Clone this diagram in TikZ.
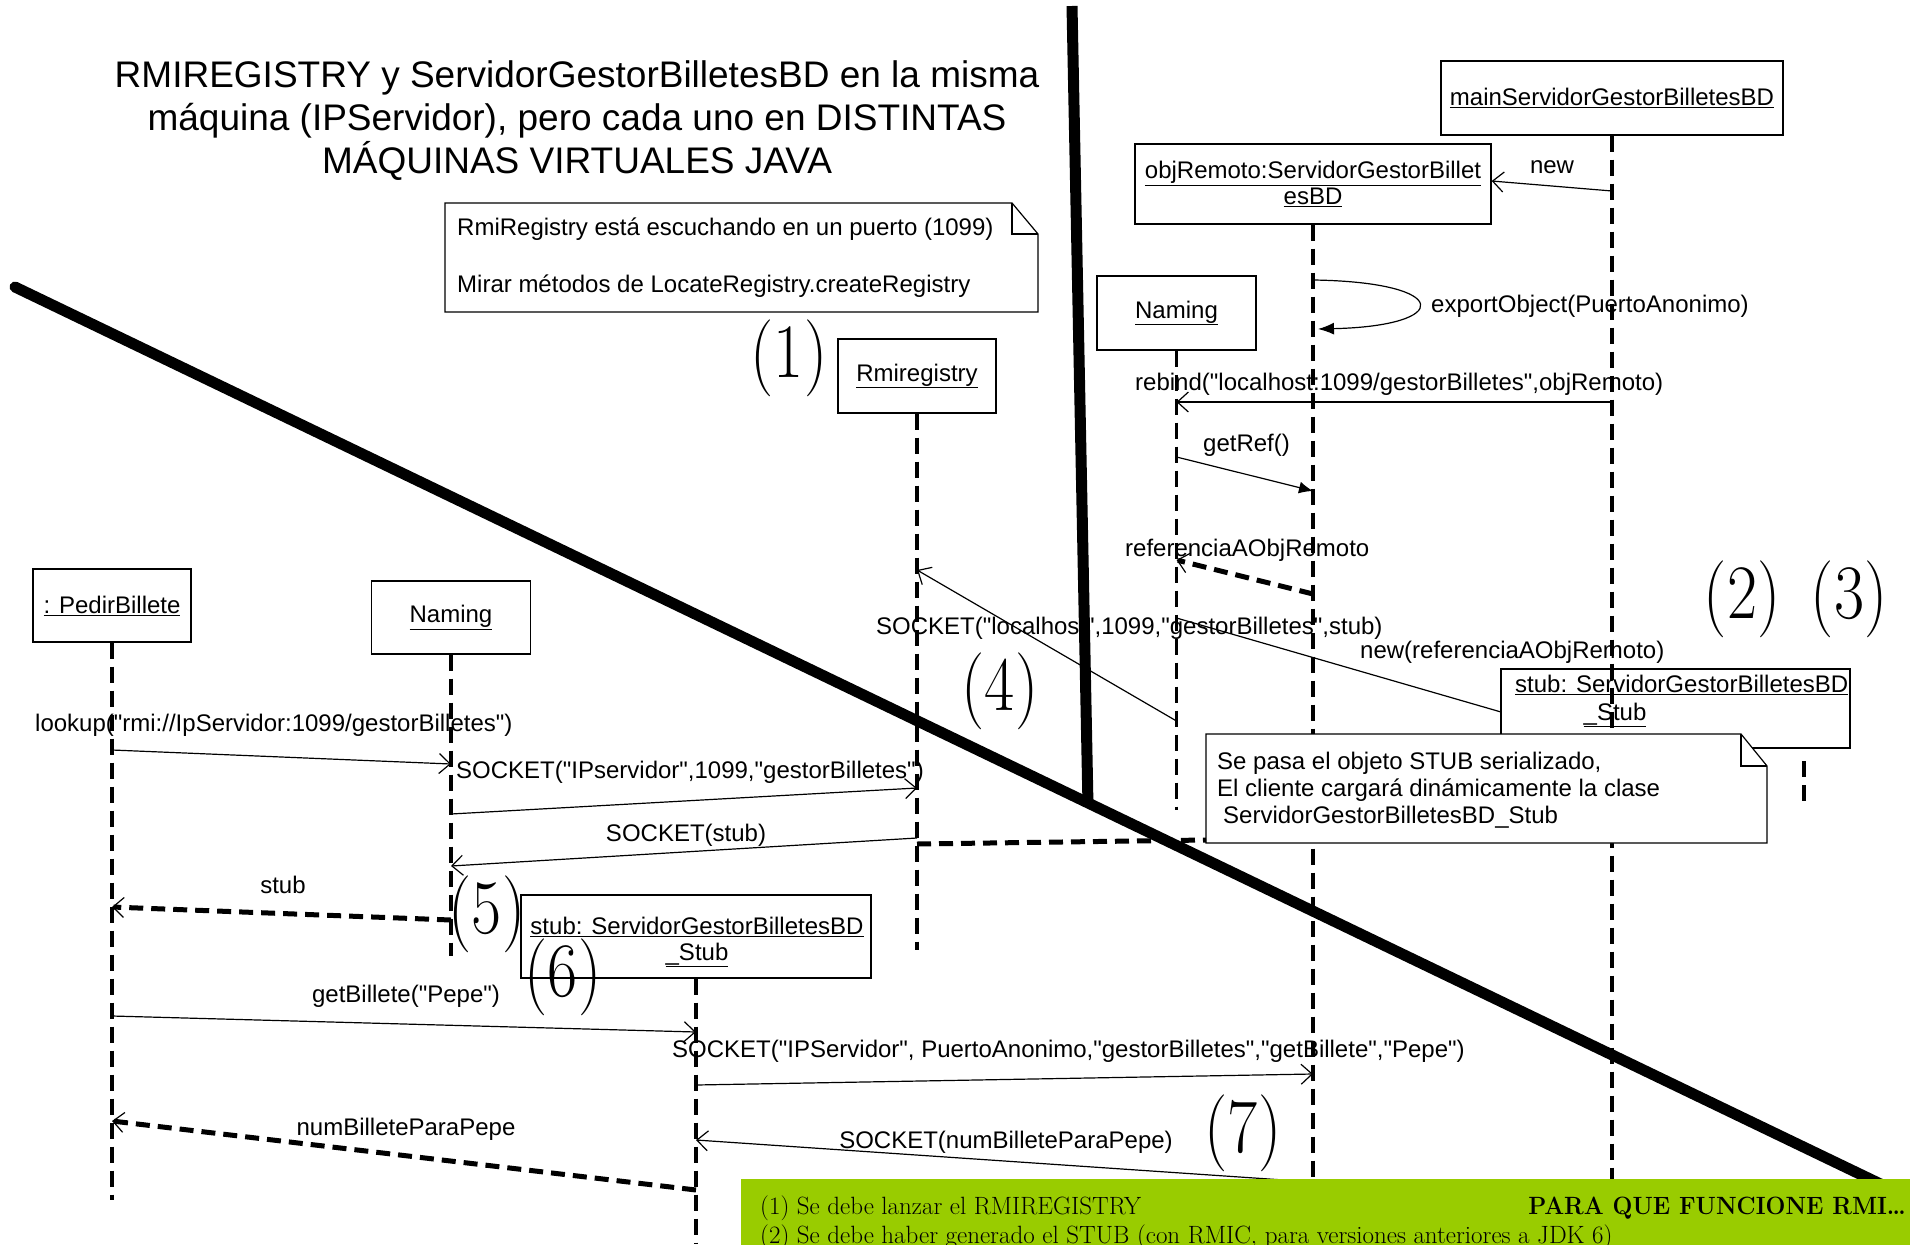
\documentclass[tikz,border=0pt]{standalone}
\usepackage{fontspec}
\usepackage{graphicx}
\newfontfamily\lsans{Liberation Sans}
\usetikzlibrary{arrows.meta}
\definecolor{limeg}{RGB}{153,204,0}
\begin{document}
\begin{tikzpicture}[x=1pt,y=-1pt,font=\lsans\fontsize{24}{28}\selectfont,
  obj/.style={draw,line width=1.3pt,fill=white,inner sep=0pt},
  lbl/.style={inner sep=0pt},
  life/.style={line width=3.5pt,dash pattern=on 16pt off 8pt},
  heavy/.style={line width=11pt},
  msg/.style={line width=1.2pt,-{Straight Barb[length=11pt,width=20pt,line width=1.2pt]}},
  fmsg/.style={line width=1.2pt,-{Latex[length=14pt,width=12pt]}},
  ret/.style={line width=5pt,dash pattern=on 14pt off 8pt,-{Straight Barb[length=11pt,width=20pt,line width=1.2pt]}},
  anch/.style={line width=5pt,dash pattern=on 14pt off 8pt},
  notebox/.style={draw,line width=1.2pt,fill=white},
  bignum/.style={font=\rmfamily\fontsize{77}{84}\selectfont,inner sep=0pt},
  greentxt/.style={font=\rmfamily\fontsize{25}{30}\selectfont,inner sep=0pt}
]
\clip (0,0) rectangle (1910,1244);
\fill[white] (0,0) rectangle (1910,1244);

% title
\node[lbl,align=center,font=\lsans\fontsize{37}{43}\selectfont] (title) at (577,121)
  {RMIREGISTRY y ServidorGestorBilletesBD en la misma\\ máquina (IPServidor), pero cada uno en DISTINTAS\\ MÁQUINAS VIRTUALES JAVA};

% note 1
\draw[notebox] (445,203) -- (1012,203) -- (1038,234) -- (1038,312) -- (445,312) -- cycle;
\draw[line width=1.2pt] (1012,203) -- (1012,234) -- (1038,234);
\node[lbl,anchor=west] (n1a) at (457,229) {RmiRegistry está escuchando en un puerto (1099)};
\node[lbl,anchor=west] (n1b) at (457,286) {Mirar métodos de LocateRegistry.createRegistry};

% message labels
\node[lbl] (lnew) at (1552,167) {new};
\node[lbl,anchor=west] (lexp) at (1431,306) {exportObject(PuertoAnonimo)};
\node[lbl,anchor=west] (lreb) at (1135,384) {rebind("localhost:1099/gestorBilletes",objRemoto)};
\node[lbl,anchor=west] (lget) at (1203,445) {getRef()};
\node[lbl,anchor=west] (lref) at (1125,550) {referenciaAObjRemoto};
\node[lbl,anchor=west] (lsl) at (876,628) {SOCKET("localhost",1099,"gestorBilletes",stub)};
\node[lbl,anchor=west] (lnr) at (1360,652) {new(referenciaAObjRemoto)};
\node[lbl,anchor=west] (llk) at (35,725) {lookup("rmi://IpServidor:1099/gestorBilletes")};
\node[lbl,anchor=west] (lsi) at (456,772) {SOCKET("IPservidor",1099,"gestorBilletes")};
\node[lbl] (lss) at (686,835) {SOCKET(stub)};
\node[lbl] (lst) at (283,885) {stub};
\node[lbl] (lgb) at (406,996) {getBillete("Pepe")};
\node[lbl,anchor=west] (lsp) at (672,1051) {SOCKET("IPServidor", PuertoAnonimo,"gestorBilletes","getBillete","Pepe")};
\node[lbl] (lsn) at (1006,1142) {SOCKET(numBilleteParaPepe)};
\node[lbl] (lnb) at (406,1129) {numBilleteParaPepe};

% objects
\node[obj,minimum width=342pt,minimum height=74pt] (mainS) at (1612,98) {\underline{mainServidorGestorBilletesBD}};
\node[obj,minimum width=356pt,minimum height=80pt,align=center] (objR) at (1313,184) {\underline{objRemoto:ServidorGestorBillet}\\[-2pt]\underline{esBD}};
\node[obj,minimum width=159pt,minimum height=74pt] (namR) at (1176.5,313) {\underline{Naming}};
\node[obj,minimum width=158pt,minimum height=74pt] (rmi) at (917,376) {\underline{Rmiregistry}};
\node[obj,minimum width=158pt,minimum height=73pt] (ped) at (112,605.5) {\underline{: PedirBillete}};
\node[obj,minimum width=159pt,minimum height=73pt] (namL) at (451,617.5) {\underline{Naming}};
\node[obj,minimum width=349pt,minimum height=79pt] (stubR) at (1675.5,708.5) {};
\node[lbl,anchor=west] (stubRa) at (1515,685) {\underline{stub: ServidorGestorBilletesBD}};
\node[lbl] (stubRb) at (1615,715) {\underline{\_Stub}};
\node[obj,minimum width=350pt,minimum height=83pt] (stubL) at (696,936.5) {};
\node[lbl] (stubLa) at (697,927) {\underline{stub: ServidorGestorBilletesBD}};
\node[lbl] (stubLb) at (697,955) {\underline{\_Stub}};

% lifelines
\coordinate (mainSe) at (1612,1244);
\coordinate (objRe) at (1313,1244);
\coordinate (namRe) at (1176.5,810);
\coordinate (rmie) at (917,950);
\coordinate (pede) at (112,1200);
\coordinate (namLe) at (451,956);
\coordinate (stubLe) at (696,1244);
\coordinate (stubRs) at (1804,761);
\coordinate (stubRe) at (1804,804);
\draw[life] (mainS.south) -- (mainSe);
\draw[life] (objR.south) -- (objRe);
\draw[life] (namR.south) -- (namRe);
\draw[life] (rmi.south) -- (rmie);
\draw[life] (ped.south) -- (pede);
\draw[life] (namL.south) -- (namLe);
\draw[life] (stubL.south) -- (stubLe);
\draw[life] (stubRs) -- (stubRe);

% heavy separators
\coordinate (d1) at (15,287);
\coordinate (d2) at (1920,1203);
\coordinate (v1) at (1072,6);
\coordinate (v2) at (1088,806);
\draw[heavy,line cap=round] (d1) -- (d2);
\draw[heavy] (v1) -- (v2);

% messages
\coordinate (a1) at (1612,191);
\draw[msg] (a1) -- (objR.east |- 0,181);
\coordinate (e1) at (1313,280); \coordinate (e2) at (1318,329);
\draw[line width=1.2pt,-{Latex[length=16pt,width=12pt]}] (e1) .. controls (1453,282) and (1453,326) .. (e2);
\coordinate (r1) at (1612,402); \coordinate (r2) at (1176.5,402);
\draw[msg] (r1) -- (r2);
\coordinate (g1) at (1176.5,457); \coordinate (g2) at (1313,491);
\draw[fmsg] (g1) -- (g2);
\coordinate (f1) at (1313,594); \coordinate (f2) at (1176.5,560);
\draw[ret] (f1) -- (f2);
\coordinate (s1) at (1176.5,721); \coordinate (s2) at (917,570);
\draw[msg] (s1) -- (s2);
\coordinate (c1) at (1176.5,618); \coordinate (c2) at (1501,712);
\draw[line width=1.2pt] (c1) -- (c2);
\coordinate (k1) at (112,750); \coordinate (k2) at (451,764);
\draw[msg] (k1) -- (k2);
\coordinate (i1) at (451,814); \coordinate (i2) at (917,788);
\draw[msg] (i1) -- (i2);
\coordinate (t1) at (917,838); \coordinate (t2) at (451,866);
\draw[msg] (t1) -- (t2);
\coordinate (u1) at (451,920); \coordinate (u2) at (112,907);
\draw[ret] (u1) -- (u2);
\coordinate (b1) at (112,1016); \coordinate (b2) at (696,1032);
\draw[msg] (b1) -- (b2);
\coordinate (p1) at (696,1085); \coordinate (p2) at (1313,1074);
\draw[msg] (p1) -- (p2);
\coordinate (q1) at (1313,1182); \coordinate (q2) at (696,1140);
\draw[msg] (q1) -- (q2);
\coordinate (w1) at (696,1190); \coordinate (w2) at (112,1121);
\draw[ret] (w1) -- (w2);

% note 2
\coordinate (na) at (917,844);
\draw[notebox] (1206,734) -- (1741,734) -- (1767,766) -- (1767,843) -- (1206,843) -- cycle;
\draw[line width=1.2pt] (1741,734) -- (1741,766) -- (1767,766);
\coordinate (nb) at (1206,840);
\draw[anch] (na) -- (nb);
\node[lbl,anchor=west] (n2a) at (1217,763) {Se pasa el objeto STUB serializado,};
\node[lbl,anchor=west] (n2b) at (1217,790) {El cliente cargará dinámicamente la clase};
\node[lbl,anchor=west] (n2c) at (1223,817) {ServidorGestorBilletesBD\_Stub};

% step numbers
\node[bignum] (k1n) at (789,358) {\scalebox{0.85}[1]{(1)}};
\node[bignum] (k2n) at (1742,599) {\scalebox{0.85}[1]{(2)}};
\node[bignum] (k3n) at (1849,599) {\scalebox{0.85}[1]{(3)}};
\node[bignum] (k4n) at (1000,691) {\scalebox{0.85}[1]{(4)}};
\node[bignum] (k5n) at (487,914) {\scalebox{0.85}[1]{(5)}};
\node[bignum] (k6n) at (563,977) {\scalebox{0.85}[1]{(6)}};
\node[bignum] (k7n) at (1243,1133) {\scalebox{0.85}[1]{(7)}};

% green box
\fill[limeg] (741,1179) rectangle (1920,1260);
\node[greentxt,anchor=west] (gt1) at (760,1208) {(1) Se debe lanzar el RMIREGISTRY};
\node[greentxt,anchor=east,font=\rmfamily\bfseries\fontsize{25}{30}\selectfont] (gt2) at (1906,1208) {\scalebox{0.94}[1]{PARA QUE FUNCIONE RMI…}};
\node[greentxt,anchor=west] (gt3) at (760,1237) {(2) Se debe haber generado el STUB (con RMIC, para versiones anteriores a JDK 6)};
\end{tikzpicture}
\end{document}
